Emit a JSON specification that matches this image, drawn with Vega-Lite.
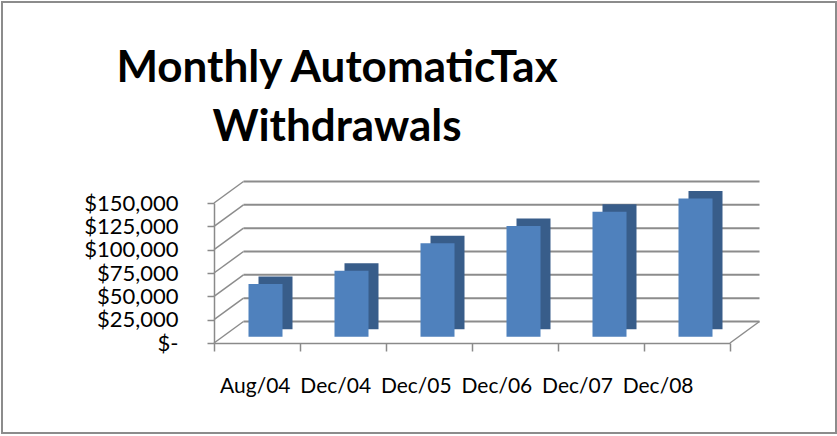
{
  "$schema": "https://vega.github.io/schema/vega-lite/v6.json",
  "autosize": "none",
  "width": 834,
  "height": 431,
  "padding": {"left": 2, "top": 2, "right": 1, "bottom": 3},
  "background": "white",
  "config": {
    "view": {"stroke": "#8c8c8c", "strokeWidth": 2},
    "axis": {"grid": false, "domainColor": "#8a8a8a", "tickColor": "#8a8a8a", "domainWidth": 1.5, "tickWidth": 1.5, "labelColor": "black", "labelFont": "Lato", "title": null}
  },
  "title": {
    "text": ["Monthly AutomaticTax", "Withdrawals"],
    "font": "Lato",
    "fontWeight": "bold",
    "fontSize": 44,
    "lineHeight": 59,
    "color": "black",
    "anchor": "middle",
    "frame": "group",
    "baseline": "alphabetic",
    "offset": 0,
    "dx": -82,
    "dy": 183
  },
  "data": {"values": [
    {"period": "Aug/04", "amount": 56500},
    {"period": "Dec/04", "amount": 70700},
    {"period": "Dec/05", "amount": 100000},
    {"period": "Dec/06", "amount": 118500},
    {"period": "Dec/07", "amount": 134000},
    {"period": "Dec/08", "amount": 148000}
  ]},
  "layer": [
    {
      "data": {"values": [{"v": 0}, {"v": 25000}, {"v": 50000}, {"v": 75000}, {"v": 100000}, {"v": 125000}, {"v": 150000}]},
      "mark": {"type": "rule", "color": "#8c8c8c", "strokeWidth": 2, "xOffset": 29.5, "x2Offset": 29.5, "yOffset": -21.5},
      "encoding": {
        "x": {"datum": "Aug/04", "type": "nominal", "bandPosition": 0},
        "x2": {"datum": "Dec/08", "bandPosition": 1},
        "y": {"field": "v", "type": "quantitative"}
      }
    },
    {
      "data": {"values": [{"v": 0}, {"v": 25000}, {"v": 50000}, {"v": 75000}, {"v": 100000}, {"v": 125000}, {"v": 150000}]},
      "mark": {"type": "rule", "color": "#8c8c8c", "strokeWidth": 1.5, "x2Offset": 29.5, "y2Offset": -21.5},
      "encoding": {
        "x": {"datum": "Aug/04", "type": "nominal", "bandPosition": 0},
        "x2": {"datum": "Aug/04", "bandPosition": 0},
        "y": {"field": "v", "type": "quantitative"},
        "y2": {"field": "v"}
      }
    },
    {
      "data": {"values": [{"v": 0}]},
      "mark": {"type": "rule", "color": "#8c8c8c", "strokeWidth": 1.5, "x2Offset": 29.5, "y2Offset": -21.5},
      "encoding": {
        "x": {"datum": "Dec/08", "type": "nominal", "bandPosition": 1},
        "x2": {"datum": "Dec/08", "bandPosition": 1},
        "y": {"field": "v", "type": "quantitative"},
        "y2": {"field": "v"}
      }
    },
    {
      "mark": {"type": "bar", "color": "#385d8a", "width": 34, "xOffset": 18.5, "yOffset": -13.8, "y2Offset": -13.8},
      "encoding": {
        "x": {"field": "period", "type": "nominal", "sort": null},
        "y": {"field": "amount", "type": "quantitative"}
      }
    },
    {
      "mark": {"type": "bar", "color": "#4f81bd", "width": 34, "xOffset": 8.5, "yOffset": -6.3, "y2Offset": -6.3},
      "encoding": {
        "x": {
          "field": "period", "type": "nominal", "sort": null,
          "scale": {"domain": ["Aug/04", "Dec/04", "Dec/05", "Dec/06", "Dec/07", "Dec/08"], "range": [212, 728], "paddingInner": 0, "paddingOuter": 0},
          "axis": {
            "orient": "bottom", "offset": -90, "labelAngle": 0, "tickBand": "extent", "tickSize": 8, "labelPadding": 35, "labelFlush": false, "labelFontSize": 21,
            "labelOffset": {
              "condition": [
                {"test": "datum.value === 'Aug/04'", "value": 33},
                {"test": "datum.value === 'Dec/04'", "value": 27.6},
                {"test": "datum.value === 'Dec/05'", "value": 22.2},
                {"test": "datum.value === 'Dec/06'", "value": 16.8},
                {"test": "datum.value === 'Dec/07'", "value": 11.4}
              ],
              "value": 6
            }
          }
        },
        "y": {
          "field": "amount", "type": "quantitative",
          "scale": {"domain": [0, 150000], "range": [341, 201], "nice": false, "zero": true},
          "axis": {"orient": "left", "offset": -212, "values": [0, 25000, 50000, 75000, 100000, 125000, 150000], "tickSize": 7, "labelPadding": 29, "labelFontSize": 22, "labelExpr": "datum.value == 0 ? '$-' : '$' + format(datum.value, ',')"}
        }
      }
    }
  ]
}
